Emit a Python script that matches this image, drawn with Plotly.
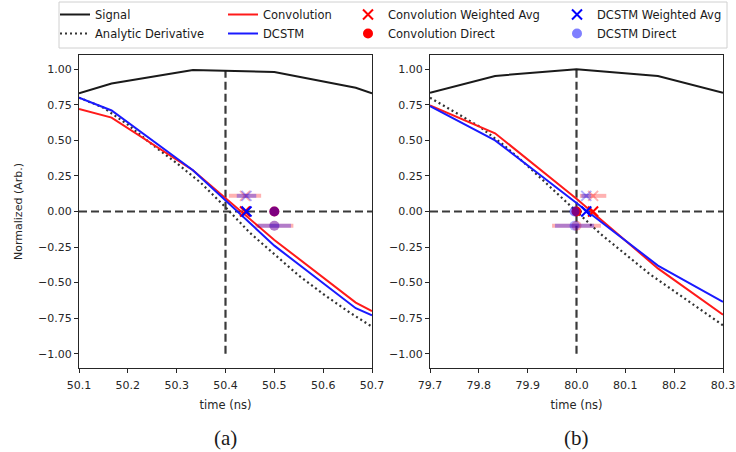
import plotly.graph_objects as go
from plotly.subplots import make_subplots

# ---------------- data: panel (a) ----------------
t_sig_a = [50.1, 50.1667, 50.3333, 50.5, 50.6667, 50.7]
signal_a = [0.83, 0.90, 0.995, 0.98, 0.87, 0.83]
t_est_a = [50.1, 50.1667, 50.3333, 50.5, 50.6667, 50.7]
conv_a = [0.72, 0.66, 0.29, -0.20, -0.64, -0.70]
dcstm_a = [0.80, 0.71, 0.29, -0.24, -0.68, -0.73]
t_an_a = [50.10, 50.15, 50.20, 50.25, 50.30, 50.35, 50.40, 50.45, 50.50, 50.55, 50.60, 50.65, 50.70]
analytic_a = [0.80, 0.73, 0.61, 0.47, 0.34, 0.20, 0.03, -0.15, -0.30, -0.45, -0.58, -0.70, -0.81]
center_a = 50.4
vline_top_a = 0.99
conv_wa_a, conv_wa_err_a = 50.44, 0.033
dcstm_wa_a, dcstm_wa_err_a = 50.443, 0.02
conv_dir_a, conv_dir_err_a = 50.5, 0.039
dcstm_dir_a, dcstm_dir_err_a = 50.5, 0.034

# ---------------- data: panel (b) ----------------
t_sig_b = [79.7, 79.8333, 80.0, 80.1667, 80.3]
signal_b = [0.835, 0.953, 1.0, 0.953, 0.835]
t_est_b = [79.7, 79.8333, 80.0, 80.1667, 80.3]
conv_b = [0.745, 0.55, 0.09, -0.40, -0.725]
dcstm_b = [0.74, 0.50, 0.06, -0.38, -0.635]
t_an_b = [79.70, 79.75, 79.80, 79.85, 79.90, 79.95, 80.00, 80.05, 80.10, 80.15, 80.20, 80.25, 80.30]
analytic_b = [0.80, 0.70, 0.60, 0.47, 0.32, 0.16, 0.00, -0.16, -0.30, -0.44, -0.56, -0.68, -0.80]
center_b = 80.0
vline_top_b = 1.0
conv_wa_b, conv_wa_err_b = 80.034, 0.027
dcstm_wa_b, dcstm_wa_err_b = 80.02, 0.01
conv_dir_b, conv_dir_err_b = 80.0, 0.05
dcstm_dir_b, dcstm_dir_err_b = 79.996, 0.04

vline_bottom = -1.0
wa_offset = 0.11
direct_offset = -0.1

# ---------------- axes ticks ----------------
y_ticks = [-1.0, -0.75, -0.5, -0.25, 0.0, 0.25, 0.5, 0.75, 1.0]
y_ticktext = ["\u22121.00", "\u22120.75", "\u22120.50", "\u22120.25", "0.00", "0.25", "0.50", "0.75", "1.00"]
x_ticks_a = [50.1, 50.2, 50.3, 50.4, 50.5, 50.6, 50.7]
x_ticktext_a = ["50.1", "50.2", "50.3", "50.4", "50.5", "50.6", "50.7"]
x_ticks_b = [79.7, 79.8, 79.9, 80.0, 80.1, 80.2, 80.3]
x_ticktext_b = ["79.7", "79.8", "79.9", "80.0", "80.1", "80.2", "80.3"]

RED = "#ff1a1a"
BLUE = "#1a1aff"
RED_FADE = "rgba(255,0,0,0.3)"
BLUE_FADE = "rgba(0,0,255,0.3)"
FONT = "DejaVu Sans"

fig = make_subplots(rows=1, cols=2)

panels = [
    dict(col=1, t_sig=t_sig_a, sig=signal_a, t_est=t_est_a, conv=conv_a, dcstm=dcstm_a,
         t_an=t_an_a, an=analytic_a, cwa=(conv_wa_a, conv_wa_err_a), dwa=(dcstm_wa_a, dcstm_wa_err_a),
         cdir=(conv_dir_a, conv_dir_err_a), ddir=(dcstm_dir_a, dcstm_dir_err_a), show=True),
    dict(col=2, t_sig=t_sig_b, sig=signal_b, t_est=t_est_b, conv=conv_b, dcstm=dcstm_b,
         t_an=t_an_b, an=analytic_b, cwa=(conv_wa_b, conv_wa_err_b), dwa=(dcstm_wa_b, dcstm_wa_err_b),
         cdir=(conv_dir_b, conv_dir_err_b), ddir=(dcstm_dir_b, dcstm_dir_err_b), show=False),
]

for p in panels:
    c = p["col"]
    s = p["show"]
    fig.add_trace(go.Scatter(x=p["t_sig"], y=p["sig"], mode="lines", name="Signal",
                             line=dict(color="#1a1a1a", width=2), showlegend=s, legend="legend"), 1, c)
    fig.add_trace(go.Scatter(x=p["t_an"], y=p["an"], mode="lines", name="Analytic Derivative",
                             line=dict(color="#333333", width=2.2, dash="2px,3px"), showlegend=s, legend="legend"), 1, c)
    fig.add_trace(go.Scatter(x=p["t_est"], y=p["conv"], mode="lines", name="Convolution",
                             line=dict(color=RED, width=2), showlegend=s, legend="legend2"), 1, c)
    fig.add_trace(go.Scatter(x=p["t_est"], y=p["dcstm"], mode="lines", name="DCSTM",
                             line=dict(color=BLUE, width=2), showlegend=s, legend="legend2"), 1, c)
    # faded error-bar markers
    fig.add_trace(go.Scatter(x=[p["cwa"][0]], y=[wa_offset], mode="markers", showlegend=False,
                             marker=dict(symbol="x-thin", size=10, line=dict(color=RED_FADE, width=2)),
                             error_x=dict(type="constant", value=p["cwa"][1], color=RED_FADE, thickness=4, width=0)), 1, c)
    fig.add_trace(go.Scatter(x=[p["dwa"][0]], y=[wa_offset], mode="markers", showlegend=False,
                             marker=dict(symbol="x-thin", size=10, line=dict(color=BLUE_FADE, width=2)),
                             error_x=dict(type="constant", value=p["dwa"][1], color=BLUE_FADE, thickness=4, width=0)), 1, c)
    fig.add_trace(go.Scatter(x=[p["cdir"][0]], y=[direct_offset], mode="markers", showlegend=False,
                             marker=dict(symbol="circle", size=10, color=RED_FADE),
                             error_x=dict(type="constant", value=p["cdir"][1], color=RED_FADE, thickness=4, width=0)), 1, c)
    fig.add_trace(go.Scatter(x=[p["ddir"][0]], y=[direct_offset], mode="markers", showlegend=False,
                             marker=dict(symbol="circle", size=10, color=BLUE_FADE),
                             error_x=dict(type="constant", value=p["ddir"][1], color=BLUE_FADE, thickness=4, width=0)), 1, c)
    # solid markers on zero line
    fig.add_trace(go.Scatter(x=[p["cwa"][0]], y=[0], mode="markers", name="Convolution Weighted Avg",
                             marker=dict(symbol="x-thin", size=10, line=dict(color="red", width=2)),
                             showlegend=s, legend="legend3"), 1, c)
    fig.add_trace(go.Scatter(x=[p["cdir"][0]], y=[0], mode="markers", name="Convolution Direct",
                             marker=dict(symbol="circle", size=10, color="red"),
                             showlegend=s, legend="legend3"), 1, c)
    fig.add_trace(go.Scatter(x=[p["dwa"][0]], y=[0], mode="markers", name="DCSTM Weighted Avg",
                             marker=dict(symbol="x-thin", size=10, line=dict(color="blue", width=2)),
                             showlegend=s, legend="legend4"), 1, c)
    fig.add_trace(go.Scatter(x=[p["ddir"][0]], y=[0], mode="markers", name="DCSTM Direct",
                             marker=dict(symbol="circle", size=10, color="rgba(0,0,255,0.5)"),
                             showlegend=s, legend="legend4"), 1, c)

# dashed reference lines
DASH = dict(color="#3a3a3a", width=2.2, dash="8px,4px")
for xref, yref, xd, cx, top in [("x", "y", "x domain", center_a, vline_top_a),
                                ("x2", "y2", "x2 domain", center_b, vline_top_b)]:
    fig.add_shape(type="line", xref=xd, yref=yref, x0=0, x1=1, y0=0, y1=0, line=DASH, layer="below")
    fig.add_shape(type="line", xref=xref, yref=yref, x0=cx, x1=cx, y0=vline_bottom, y1=top, line=DASH, layer="below")

W, H = 736, 452
axis_common = dict(showline=True, mirror=True, linecolor="#262626", linewidth=1, ticks="outside",
                   ticklen=4, tickcolor="#262626", showgrid=False, zeroline=False, automargin=False,
                   tickfont=dict(family=FONT, size=11, color="#262626"))

fig.update_xaxes(axis_common)
fig.update_yaxes(axis_common)
fig.update_xaxes(ticklabelstandoff=3)
ydom = [(H - 368) / H, (H - 55) / H]
fig.update_layout(
    xaxis=dict(domain=[79 / W, 372 / W], range=[50.1, 50.7], tickvals=x_ticks_a, ticktext=x_ticktext_a,
               title=dict(text="time (ns)", font=dict(family=FONT, size=11.5, color="#262626"), standoff=9)),
    xaxis2=dict(domain=[430 / W, 723 / W], range=[79.7, 80.3], tickvals=x_ticks_b, ticktext=x_ticktext_b,
                title=dict(text="time (ns)", font=dict(family=FONT, size=11.5, color="#262626"), standoff=9)),
    yaxis=dict(domain=ydom, range=[-1.1, 1.1], tickvals=y_ticks, ticktext=y_ticktext,
               title=dict(text="Normalized (Arb.)", font=dict(family=FONT, size=11, color="#262626"), standoff=13)),
    yaxis2=dict(domain=ydom, range=[-1.1, 1.1], tickvals=y_ticks, ticktext=y_ticktext),
)

leg_common = dict(orientation="v", xanchor="left", yanchor="top", bgcolor="rgba(0,0,0,0)",
                  borderwidth=0, font=dict(family=FONT, size=11.5, color="#1a1a1a"),
                  tracegroupgap=0, itemwidth=30)
fig.update_layout(
    legend=dict(leg_common, x=55 / W, y=1.0),
    legend2=dict(leg_common, x=223 / W, y=1.0),
    legend3=dict(leg_common, x=348 / W, y=1.0),
    legend4=dict(leg_common, x=557 / W, y=1.0),
)

# legend frame
fig.add_shape(type="rect", xref="paper", yref="paper", x0=59 / W, x1=727 / W,
              y0=1 - 48 / H, y1=1 - 2 / H, line=dict(color="#d0d0d0", width=1), fillcolor="white", layer="below")

# subfigure captions
fig.add_annotation(text="(a)", xref="x domain", yref="paper", x=0.5, y=1 - 438 / H, yanchor="middle",
                   showarrow=False, font=dict(family="Liberation Serif", size=21, color="#1a1a1a"))
fig.add_annotation(text="(b)", xref="x2 domain", yref="paper", x=0.5, y=1 - 438 / H, yanchor="middle",
                   showarrow=False, font=dict(family="Liberation Serif", size=21, color="#1a1a1a"))

fig.update_layout(width=W, height=H, margin=dict(l=0, r=0, t=0, b=0),
                  paper_bgcolor="white", plot_bgcolor="white", showlegend=True)

fig.write_html("out.html", config={"displayModeBar": False},
               post_script="document.body.style.margin='0';document.body.style.overflow='hidden';")
